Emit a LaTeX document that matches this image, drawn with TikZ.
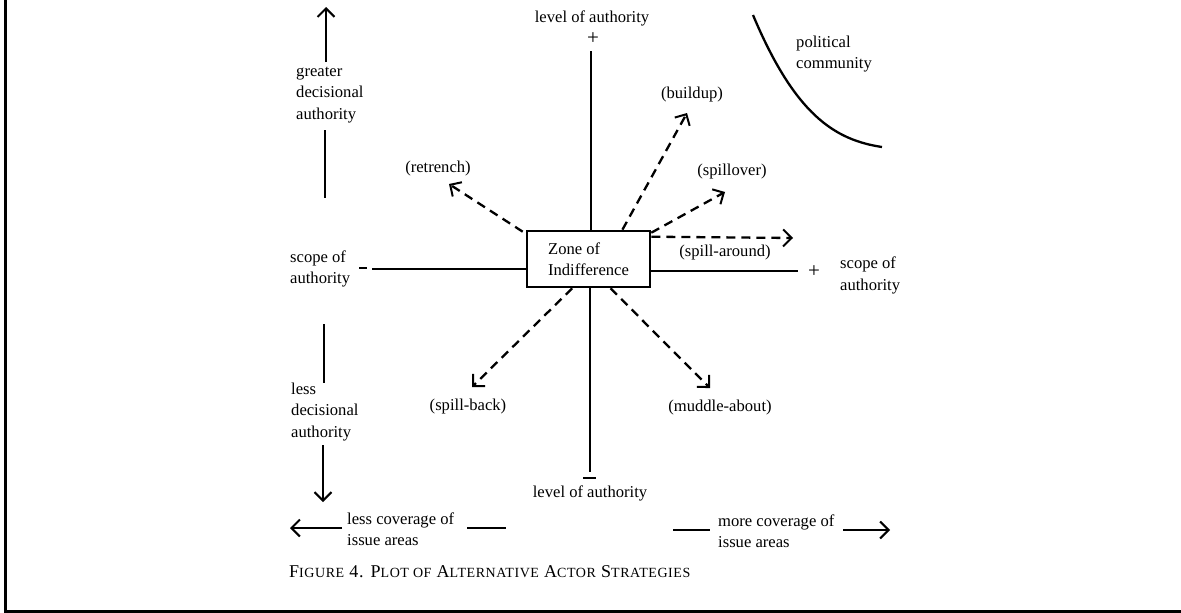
\documentclass[tikz,border=0pt]{standalone}
\usepackage{fontspec}
\setmainfont{Liberation Serif}
\newfontfamily\capfam[LetterSpace=4]{Liberation Serif}
\newcommand\mysc[1]{{\fontsize{14}{16}\selectfont #1}}
\usetikzlibrary{arrows.meta,calc}
\begin{document}
\begin{tikzpicture}[x=1pt,y=-1pt,
  lbl/.style={font=\fontsize{16.6}{21.5}\selectfont, inner sep=0pt},
  sign/.style={font=\fontsize{21}{22}\selectfont, inner sep=0pt},
  axis/.style={line width=2.6pt},
  dasharrow/.style={line width=2.3pt, dash pattern=on 9pt off 6pt,
     -{Straight Barb[length=8.5pt,width=17pt,line width=2pt]}},
  sidearrow/.style={line width=2.3pt, -{Straight Barb[length=8.5pt,width=17pt,line width=2pt]}},
  sideline/.style={line width=2.3pt},
  zonebox/.style={draw, line width=2.6pt, minimum width=123pt, minimum height=56pt,
     align=left, inner sep=0pt, font=\fontsize{16.6}{21}\selectfont}]
\useasboundingbox (0,0) rectangle (1181,613);
% frame
\draw[line width=3pt] (5,0) -- (5,611) -- (1181,611);

% central box
\node[zonebox] (zone) at (588.5,259) {Zone of\\Indifference};

% axis labels
\node[lbl] (levtop) at (592,18) {level of authority};
\node[sign] (plustop) at (593,39) {+};
\node[lbl] (levbot) at (590,493) {level of authority};
\node[lbl, anchor=west, align=left] (scopeL) at (290,269) {scope of\\authority};
\node[lbl, anchor=west, align=left] (scopeR) at (840,275.5) {scope of\\authority};
\node[sign] (plusR) at (814,272) {+};

% minus marks
\coordinate (mLa) at (359,268);
\coordinate (mLb) at (367,268);
\draw[sideline] (mLa) -- (mLb);
\coordinate (mBa) at (583,478);
\coordinate (mBb) at (596,478);
\draw[sideline] (mBa) -- (mBb);

% axes
\coordinate (vtop) at (591,51);
\coordinate (vbot) at (590,472);
\coordinate (hleft) at (372,269);
\coordinate (hright) at (798,271);
\draw[axis] (vtop) -- (vtop |- zone.north);
\draw[axis] (vbot |- zone.south) -- (vbot);
\draw[axis] (hleft) -- (hleft -| zone.west);
\draw[axis] (hright -| zone.east) -- (hright);

% strategy labels
\node[lbl] (retrench) at (438,169) {(retrench)};
\node[lbl] (buildup) at (692,95) {(buildup)};
\node[lbl] (spillover) at (732,172) {(spillover)};
\node[lbl] (spillaround) at (725,253) {(spill-around)};
\node[lbl] (spillback) at (468,407) {(spill-back)};
\node[lbl] (muddle) at (720,408) {(muddle-about)};

% strategy arrow tips
\coordinate (tRet) at (449,184);
\coordinate (tBuild) at (687,113);
\coordinate (tOver) at (725,192);
\coordinate (tAround) at (793,238);
\coordinate (tBack) at (472,387);
\coordinate (tMuddle) at (710,388);

\draw[dasharrow] ([xshift=-3pt,yshift=-2pt]zone.north west) -- (tRet);
\draw[dasharrow] ($(zone.north west)!0.77!(zone.north east)$) -- (tBuild);
\draw[dasharrow] ([yshift=-3pt]zone.north east) -- (tOver);
\draw[dasharrow] ([yshift=-7pt]zone.north east) -- (tAround);
\draw[dasharrow] ($(zone.south west)!0.37!(zone.south east)$) -- (tBack);
\draw[dasharrow] ($(zone.south west)!0.675!(zone.south east)$) -- (tMuddle);

% political community
\draw[line width=2.3pt] (753,15) .. controls (795,115) and (835,140) .. (882,147);
\node[lbl, anchor=west, align=left] (political) at (796,54) {political\\community};

% decisional authority (left side)
\node[lbl, anchor=west, align=left] (greater) at (296,95) {greater\\decisional\\authority};
\coordinate (upA) at (326,62);
\coordinate (upTip) at (326,7);
\draw[sidearrow] (upA) -- (upTip);
\coordinate (gA) at (325,130);
\coordinate (gB) at (325,198);
\draw[sideline] (gA) -- (gB);

\node[lbl, anchor=west, align=left] (less) at (291,412) {less\\decisional\\authority};
\coordinate (lA) at (324,324);
\coordinate (lB) at (324,383);
\draw[sideline] (lA) -- (lB);
\coordinate (dA) at (323,445);
\coordinate (dTip) at (323,502);
\draw[sidearrow] (dA) -- (dTip);

% coverage of issue areas
\node[lbl, anchor=west, align=left] (lessCov) at (347,529) {less coverage of\\issue areas};
\coordinate (lcA) at (342,528);
\coordinate (lcTip) at (290,528);
\draw[sidearrow] (lcA) -- (lcTip);
\coordinate (lcB) at (467,528);
\coordinate (lcC) at (506,528);
\draw[sideline] (lcB) -- (lcC);

\node[lbl, anchor=west, align=left] (moreCov) at (718,531) {more coverage of\\issue areas};
\coordinate (mcB) at (673,530);
\coordinate (mcC) at (710,530);
\draw[sideline] (mcB) -- (mcC);
\coordinate (mcA) at (843,530);
\coordinate (mcTip) at (890,530);
\draw[sidearrow] (mcA) -- (mcTip);

% caption
\node[inner sep=0pt, anchor=west, font=\capfam\fontsize{18}{20}\selectfont] (caption) at (289,572) {F\mysc{IGURE} 4. P\mysc{LOT OF} A\mysc{LTERNATIVE} A\mysc{CTOR} S\mysc{TRATEGIES}};
\end{tikzpicture}
\end{document}
